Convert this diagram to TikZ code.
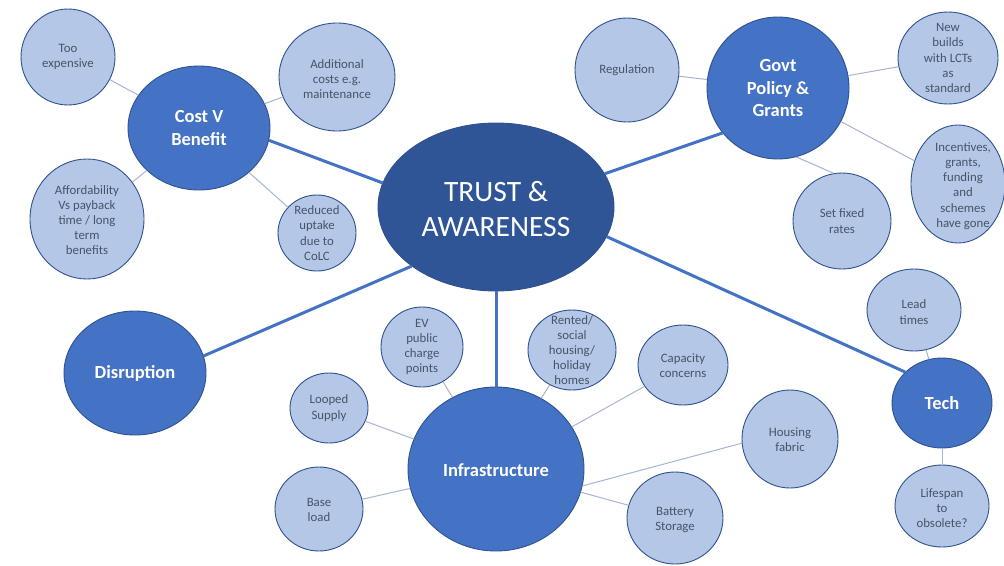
\documentclass[tikz,border=0pt]{standalone}
\usepackage{fontspec}
\setmainfont{Carlito}
\usetikzlibrary{shapes.geometric}
\definecolor{hubfill}{HTML}{4472C4}
\definecolor{corefill}{HTML}{2F5597}
\definecolor{lightfill}{HTML}{B4C7E7}
\definecolor{edgedark}{HTML}{2F528F}
\definecolor{thinline}{HTML}{A7B5CF}
\definecolor{lighttxt}{HTML}{44546A}
\begin{document}
\begin{tikzpicture}[x=1pt,y=-1pt,
  bubble/.style={ellipse,draw=edgedark,line width=0.9pt,inner sep=0pt,fill=lightfill},
  hub/.style={ellipse,draw=edgedark,line width=0.9pt,inner sep=0pt,fill=hubfill},
  core/.style={ellipse,draw=edgedark,line width=0.9pt,inner sep=0pt,fill=corefill},
  btext/.style={align=center,text=lighttxt,font=\fontsize{12.8}{15.2}\selectfont,inner sep=0pt},
  htext/.style={align=center,text=white,font=\fontsize{18.5}{22.5}\selectfont\bfseries,inner sep=0pt},
  ctext/.style={align=center,text=white,font=\fontsize{29.5}{35}\selectfont,inner sep=0pt},
  thick link/.style={draw=hubfill,line width=3pt},
  thin link/.style={draw=thinline,line width=1pt}]
\useasboundingbox (0,0) rectangle (1004,565);
\fill[white] (0,0) rectangle (1004,565);

% core
\node[core,minimum width=236pt,minimum height=168pt] (core) at (496,207) {};
\node[ctext] (core-t) at (496,209) {TRUST \&\\AWARENESS};

% hubs
\node[hub,minimum width=142pt,minimum height=124pt] (cost) at (199,128) {};
\node[htext] (cost-t) at (cost) {Cost V\\Benefit};
\node[hub,minimum width=142pt,minimum height=142pt] (govt) at (778,88) {};
\node[htext] (govt-t) at (govt) {Govt\\Policy \&\\Grants};
\node[hub,minimum width=142pt,minimum height=124pt] (disr) at (135,373) {};
\node[htext] (disr-t) at (disr) {Disruption};
\node[hub,minimum width=176pt,minimum height=164pt] (infra) at (496,469) {};
\node[htext] (infra-t) at (496,470) {Infrastructure};
\node[hub,minimum width=100pt,minimum height=90pt] (tech) at (942,403) {};
\node[htext] (tech-t) at (tech) {Tech};

% cost bubbles
\node[bubble,minimum width=94pt,minimum height=96pt] (tooexp) at (68,57) {};
\node[btext] (tooexp-t) at (tooexp) {Too\\expensive};
\node[bubble,minimum width=116pt,minimum height=108pt] (addc) at (337,77) {};
\node[btext] (addc-t) at (337,79) {Additional\\costs e.g.\\maintenance};
\node[bubble,minimum width=114pt,minimum height=120pt] (afford) at (87,219) {};
\node[btext] (afford-t) at (87,220) {Affordability\\Vs payback\\time / long\\term\\benefits};
\node[bubble,minimum width=78pt,minimum height=76pt] (reduced) at (317,233) {};
\node[btext] (reduced-t) at (reduced) {Reduced\\uptake\\due to\\CoLC};

% govt bubbles
\node[bubble,minimum width=104pt,minimum height=104pt] (reg) at (627,70) {};
\node[btext] (reg-t) at (reg) {Regulation};
\node[bubble,minimum width=100pt,minimum height=92pt] (newb) at (948,58) {};
\node[btext] (newb-t) at (948,58) {New\\builds\\with LCTs\\as\\standard};
\node[bubble,minimum width=94pt,minimum height=118pt] (incent) at (958,184) {};
\node[btext] (incent-t) at (963,186) {Incentives,\\grants,\\funding\\and\\schemes\\have gone};
\node[bubble,minimum width=98pt,minimum height=96pt] (fixed) at (842,221) {};
\node[btext] (fixed-t) at (842,221) {Set fixed\\rates};

% tech bubbles
\node[bubble,minimum width=94pt,minimum height=82pt] (lead) at (914,310) {};
\node[btext] (lead-t) at (914,312) {Lead\\times};
\node[bubble,minimum width=94pt,minimum height=82pt] (life) at (942,506) {};
\node[btext] (life-t) at (942,508) {Lifespan\\to\\obsolete?};

% infrastructure bubbles
\node[bubble,minimum width=82pt,minimum height=80pt] (ev) at (422,347) {};
\node[btext] (ev-t) at (422,347) {EV\\public\\charge\\points};
\node[bubble,minimum width=88pt,minimum height=80pt] (rented) at (572,350) {};
\node[btext] (rented-t) at (572,350) {Rented/\\social\\housing/\\holiday\\homes};
\node[bubble,minimum width=90pt,minimum height=80pt] (capac) at (683,365) {};
\node[btext] (capac-t) at (683,366) {Capacity\\concerns};
\node[bubble,minimum width=78pt,minimum height=70pt] (looped) at (329,408) {};
\node[btext] (looped-t) at (329,408) {Looped\\Supply};
\node[bubble,minimum width=88pt,minimum height=84pt] (base) at (319,509) {};
\node[btext] (base-t) at (319,510) {Base\\load};
\node[bubble,minimum width=96pt,minimum height=92pt] (batt) at (675,518) {};
\node[btext] (batt-t) at (675,520) {Battery\\Storage};
\node[bubble,minimum width=96pt,minimum height=98pt] (house) at (790,439) {};
\node[btext] (house-t) at (790,440) {Housing\\fabric};

% thick links
\draw[thick link] (core.168) -- (cost.-10);
\draw[thick link] (core.17) -- (govt.-141);
\draw[thick link] (core.215) -- (disr.14);
\draw[thick link] (core.south) -- (infra.north);
\draw[thick link] (core.-15) -- (tech.140);

% thin links
\draw[thin link] (tooexp) -- (cost);
\draw[thin link] (addc) -- (cost);
\draw[thin link] (afford) -- (cost);
\draw[thin link] (reduced) -- (cost);
\draw[thin link] (reg) -- (govt);
\draw[thin link] (newb) -- (govt);
\draw[thin link] (incent) -- (govt);
\draw[thin link] (fixed.100) -- (govt.-75);
\draw[thin link] (lead) -- (tech);
\draw[thin link] (life) -- (tech);
\draw[thin link] (ev) -- (infra);
\draw[thin link] (rented) -- (infra);
\draw[thin link] (capac) -- (infra);
\draw[thin link] (looped) -- (infra);
\draw[thin link] (base) -- (infra);
\draw[thin link] (batt) -- (infra);
\draw[thin link] (infra.-11) -- (house.185);
\end{tikzpicture}
\end{document}
